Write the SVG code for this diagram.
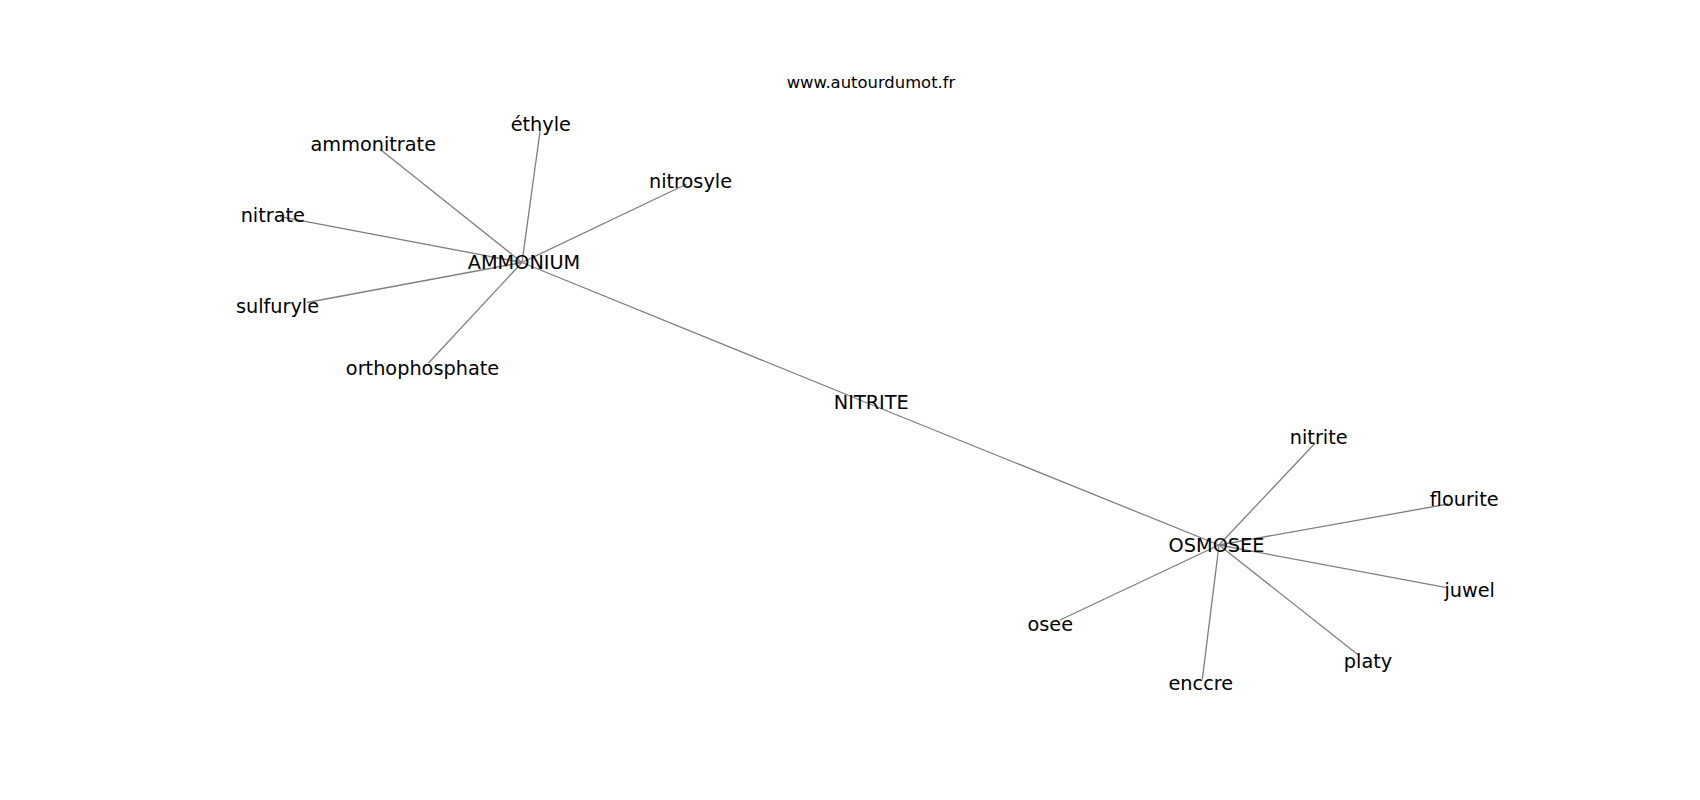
<svg xmlns="http://www.w3.org/2000/svg" width="1700" height="800" viewBox="0 0 1700 800">
<style>
.e{stroke:#7f7f7f;stroke-width:1.3;fill:none}
.l{font-family:"DejaVu Sans","Liberation Sans",sans-serif;font-size:19.3px;fill:#000;text-anchor:middle}
.t{font-family:"DejaVu Sans","Liberation Sans",sans-serif;font-size:16.4px;fill:#000;text-anchor:middle}
</style>
<rect width="1700" height="800" fill="#fff"/>
<g id="connectors">
<line class="e" x1="522" y1="262.5" x2="380" y2="149.3"/>
<line class="e" x1="522" y1="262.5" x2="540" y2="131.7"/>
<line class="e" x1="522" y1="262.5" x2="686.7" y2="184"/>
<line class="e" x1="522" y1="262.5" x2="280" y2="216.7"/>
<line class="e" x1="522" y1="262.5" x2="307" y2="302.5"/>
<line class="e" x1="522" y1="262.5" x2="428.3" y2="363.3"/>
<line class="e" x1="522" y1="262.5" x2="871" y2="404.5"/>
<line class="e" x1="871" y1="404.5" x2="1219" y2="545"/>
<line class="e" x1="1219" y1="545" x2="1315" y2="443.3"/>
<line class="e" x1="1219" y1="545" x2="1448.3" y2="504"/>
<line class="e" x1="1219" y1="545" x2="1446.7" y2="587.7"/>
<line class="e" x1="1219" y1="545" x2="1358.3" y2="655"/>
<line class="e" x1="1219" y1="545" x2="1202.3" y2="679.3"/>
<line class="e" x1="1219" y1="545" x2="1060" y2="620"/>
</g>
<text class="t" x="871" y="88.3">www.autourdumot.fr</text>
<g id="AMMONIUM"><text class="l" x="524" y="269.3">AMMONIUM</text></g>
<g id="ammonitrate"><text class="l" x="373.3" y="151">ammonitrate</text></g>
<g id="ethyle"><text class="l" x="540.8" y="130.7">éthyle</text></g>
<g id="nitrosyle"><text class="l" x="690.5" y="188.3">nitrosyle</text></g>
<g id="nitrate"><text class="l" x="272.8" y="222.3">nitrate</text></g>
<g id="sulfuryle"><text class="l" x="277.5" y="312.7">sulfuryle</text></g>
<g id="orthophosphate"><text class="l" x="422.5" y="375">orthophosphate</text></g>
<g id="NITRITE"><text class="l" x="871.3" y="409">NITRITE</text></g>
<g id="OSMOSEE"><text class="l" x="1216.5" y="551.7">OSMOSEE</text></g>
<g id="nitrite"><text class="l" x="1318.7" y="444">nitrite</text></g>
<g id="flourite"><text class="l" x="1464.2" y="506">flourite</text></g>
<g id="juwel"><text class="l" x="1469.7" y="597.3">juwel</text></g>
<g id="platy"><text class="l" x="1368" y="667.7">platy</text></g>
<g id="enccre"><text class="l" x="1200.8" y="690">enccre</text></g>
<g id="osee"><text class="l" x="1050.3" y="630.7">osee</text></g>
</svg>
